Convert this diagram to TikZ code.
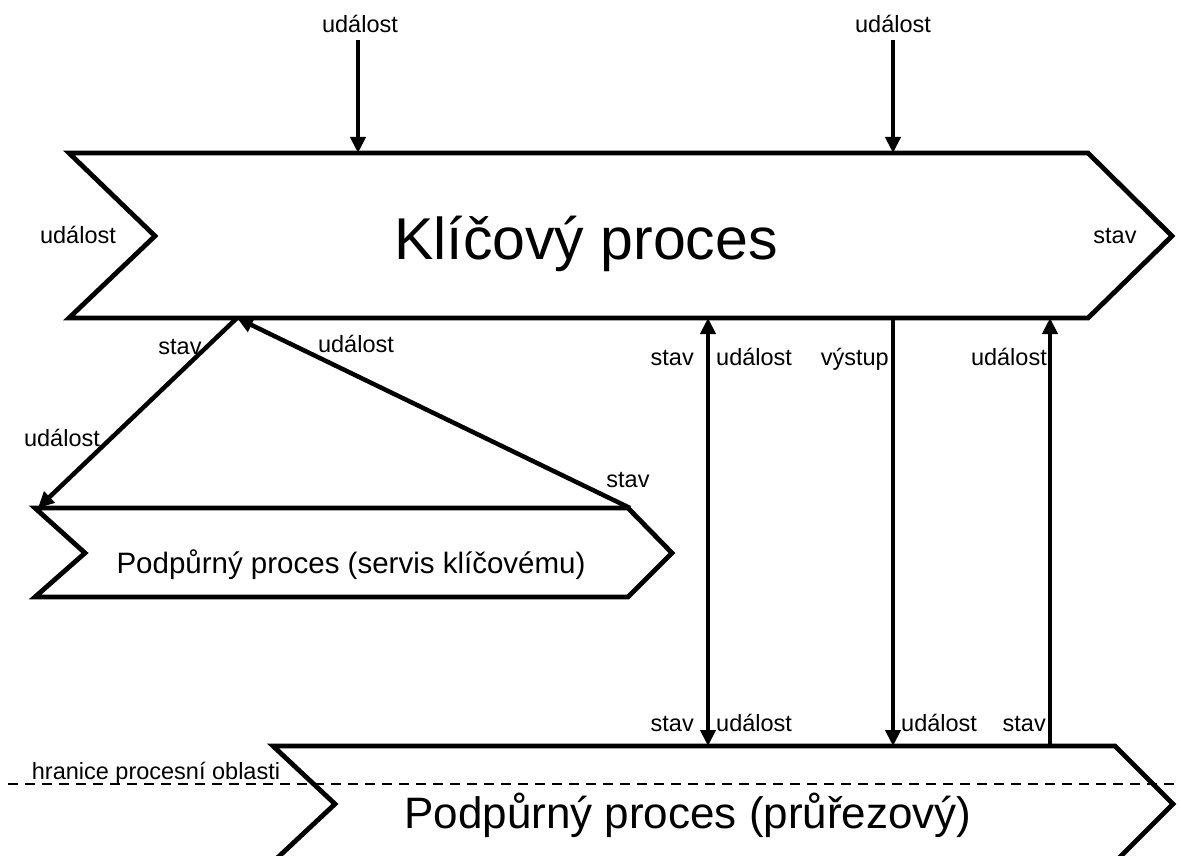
\documentclass[tikz,border=0pt]{standalone}
\usepackage{fontspec}
\setmainfont{Liberation Sans}
\usetikzlibrary{arrows.meta}
\begin{document}
\begin{tikzpicture}[x=1pt,y=-1pt,
  chev/.style={line width=4.8pt,line join=miter},
  arr/.style={line width=4.5pt,-{Triangle[length=16pt,width=15pt]}},
  darr/.style={line width=4.5pt,{Triangle[length=16pt,width=15pt]}-{Triangle[length=16pt,width=15pt]}},
  lbl/.style={font=\fontsize{23.5}{27}\selectfont,inner sep=0pt,anchor=base},
  lble/.style={lbl,anchor=base east},
  lblw/.style={lbl,anchor=base west},
  boundary/.style={line width=2pt,dash pattern=on 10pt off 7pt}
]
\useasboundingbox (0,0) rectangle (1181,856);
\clip (0,0) rectangle (1181,856);

% chevrons
\draw[chev] (69,153) -- (1088,153) -- (1172,236) -- (1088,318) -- (69,318) -- (155,236) -- cycle;
\draw[chev] (35,508) -- (628,508) -- (672,553) -- (628,597) -- (35,597) -- (85,553) -- cycle;
\draw[chev] (273,746) -- (1115,746) -- (1173,804) -- (1115,862) -- (273,862) -- (335,804) -- cycle;

% boundary
\coordinate (b1) at (8,784);
\coordinate (b2) at (1181,784);
\draw[boundary] (b1) -- (b2);
\node[lbl] (hr) at (156,779) {hranice procesní oblasti};

% main texts
\node[lbl,font=\fontsize{59}{64}\selectfont] (kp) at (586,259) {Klíčový proces};
\node[lbl,font=\fontsize{29.5}{34}\selectfont] (sp) at (351,573) {Podpůrný proces (servis klíčovému)};
\node[lbl,font=\fontsize{44}{50}\selectfont] (pp) at (688,828) {Podpůrný proces (průřezový)};

% attachment points
\coordinate (t1) at (358,40);  \coordinate (k1) at (358,153);
\coordinate (t2) at (893,40);  \coordinate (k2) at (893,153);
\coordinate (kb) at (237,318);
\coordinate (sl) at (38,508);
\coordinate (sr) at (630,508);
\coordinate (v1t) at (708,318); \coordinate (v1b) at (708,746);
\coordinate (v2t) at (893,318); \coordinate (v2b) at (893,746);
\coordinate (v3t) at (1050,318); \coordinate (v3b) at (1050,746);

% top events
\node[lbl] (e1) at (360,33) {událost};
\node[lbl] (e2) at (893,33) {událost};
\draw[arr] (t1) -- (k1);
\draw[arr] (t2) -- (k2);

% side labels main
\node[lbl] (el) at (78,243) {událost};
\node[lbl] (sr1) at (1115,243) {stav};

% left triangle arrows
\draw[arr] (kb) -- (sl);
\draw[arr] (sr) -- (kb);
\node[lbl] (ls1) at (180,354) {stav};
\node[lbl] (le1) at (356,352) {událost};
\node[lbl] (le2) at (62,446) {událost};
\node[lbl] (ls2) at (628,487) {stav};

% vertical arrows
\draw[darr] (v1t) -- (v1b);
\draw[arr] (v2t) -- (v2b);
\draw[arr] (v3b) -- (v3t);

\node[lble] (a1) at (694,365) {stav};
\node[lblw] (a2) at (716,365) {událost};
\node[lble] (a3) at (889,365) {výstup};
\node[lble] (a4) at (1047,365) {událost};

\node[lble] (b1l) at (694,731) {stav};
\node[lblw] (b2l) at (716,731) {událost};
\node[lblw] (b3l) at (901,731) {událost};
\node[lble] (b4l) at (1046,731) {stav};
\end{tikzpicture}
\end{document}
